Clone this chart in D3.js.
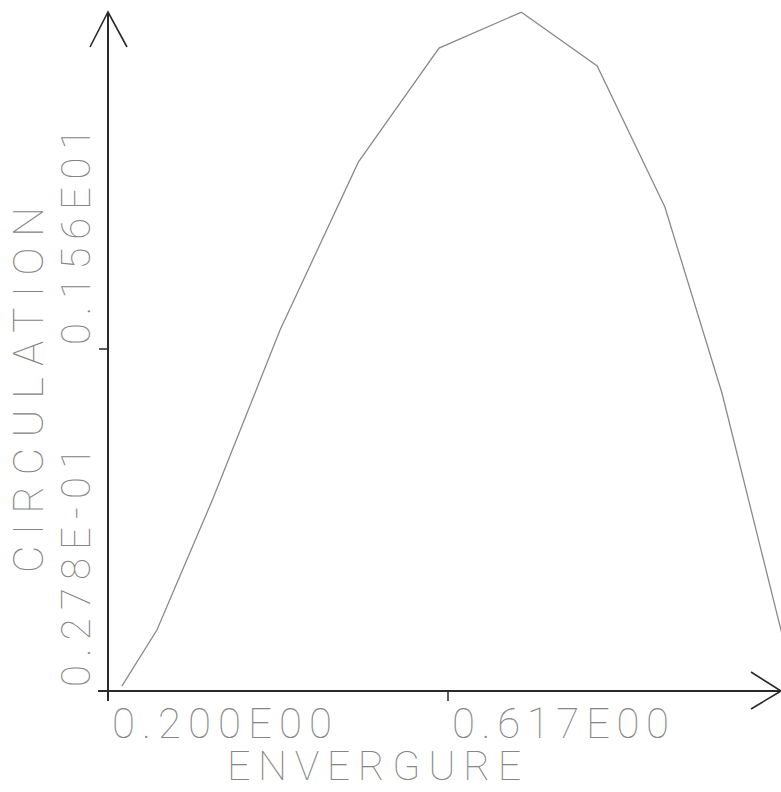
<!DOCTYPE html>
<html>
<head>
<meta charset="utf-8">
<script src="https://cdn.jsdelivr.net/npm/d3@7"></script>
<style>
  html, body { margin: 0; padding: 0; background: #fff; }
  svg { display: block; }
  .lbl { font-family: Roboto, "DejaVu Sans", sans-serif; font-weight: 100; fill: #858585; }
</style>
</head>
<body>
<div id="chart"></div>
<script>
// ---- data ----
const envergure   = [0.217, 0.260, 0.329, 0.411, 0.507, 0.606, 0.707, 0.800, 0.883, 0.953, 1.044];
const circulation = [0.050, 0.301, 0.892, 1.645, 2.397, 2.908, 3.069, 2.828, 2.196, 1.363, 0.028];
const xTickValues = [0.200, 0.617];
const xTickLabels = ["0.200E00", "0.617E00"];
const yTickValues = [0.0278, 1.56];
const yTickLabels = ["0.278E-01", "0.156E01"];
const xTitle = "ENVERGURE";
const yTitle = "CIRCULATION";

// ---- layout ----
const W = 781, H = 792;
const x0 = 108, y0 = 691;          // origin of the axes
const xMidPx = 448, yMidPx = 349;  // second tick positions

const x = d3.scaleLinear().domain([xTickValues[0], xTickValues[1]]).range([x0, xMidPx]);
const y = d3.scaleLinear().domain([yTickValues[0], yTickValues[1]]).range([y0, yMidPx]);

const svg = d3.select("#chart").append("svg")
  .attr("width", W).attr("height", H);

const axisColor = "#2a2a2a";

// axis lines
svg.append("line").attr("x1", x0 - 10).attr("y1", y0).attr("x2", 781).attr("y2", y0)
  .attr("stroke", axisColor).attr("stroke-width", 2);
svg.append("line").attr("x1", x0).attr("y1", y0 + 10).attr("x2", x0).attr("y2", 12)
  .attr("stroke", axisColor).attr("stroke-width", 2);

// arrow heads
svg.append("path").attr("d", `M${x0 - 18},47 L${x0},12 L${x0 + 19},47`)
  .attr("fill", "none").attr("stroke", axisColor).attr("stroke-width", 1.6);
svg.append("path").attr("d", `M751,${y0 - 19} L781,${y0} L751,${y0 + 18}`)
  .attr("fill", "none").attr("stroke", axisColor).attr("stroke-width", 1.6);

// ticks
xTickValues.forEach(v => {
  svg.append("line").attr("x1", x(v)).attr("x2", x(v)).attr("y1", y0).attr("y2", y0 + 10)
    .attr("stroke", axisColor).attr("stroke-width", 1.5);
});
yTickValues.forEach(v => {
  svg.append("line").attr("x1", x0 - 9).attr("x2", x0).attr("y1", y(v)).attr("y2", y(v))
    .attr("stroke", axisColor).attr("stroke-width", 1.5);
});

// tick labels
const xLabelLen = [220, 217];
xTickValues.forEach((v, i) => {
  svg.append("text").attr("class", "lbl")
    .attr("x", x(v) + 4).attr("y", y0 + 47)
    .attr("font-size", 42)
    .attr("textLength", xLabelLen[i]).attr("lengthAdjust", "spacing")
    .text(xTickLabels[i]);
});
const yLabelLen = [240, 217];
yTickValues.forEach((v, i) => {
  const cy = y(v) - 4;
  svg.append("text").attr("class", "lbl")
    .attr("transform", `translate(90,${cy}) rotate(-90)`)
    .attr("font-size", 40)
    .attr("textLength", yLabelLen[i]).attr("lengthAdjust", "spacing")
    .text(yTickLabels[i]);
});

// axis titles
svg.append("text").attr("class", "lbl")
  .attr("x", 227).attr("y", 780)
  .attr("font-size", 41)
  .attr("textLength", 294).attr("lengthAdjust", "spacing")
  .text(xTitle);
svg.append("text").attr("class", "lbl")
  .attr("transform", `translate(43,573) rotate(-90)`)
  .attr("font-size", 42)
  .attr("textLength", 366).attr("lengthAdjust", "spacing")
  .text(yTitle);

// curve
const pts = envergure.map((e, i) => [e, circulation[i]]);
svg.append("path")
  .datum(pts)
  .attr("fill", "none")
  .attr("stroke", "#8a8a8a")
  .attr("stroke-width", 1.3)
  .attr("d", d3.line().x(d => x(d[0])).y(d => y(d[1])));
</script>
</body>
</html>
